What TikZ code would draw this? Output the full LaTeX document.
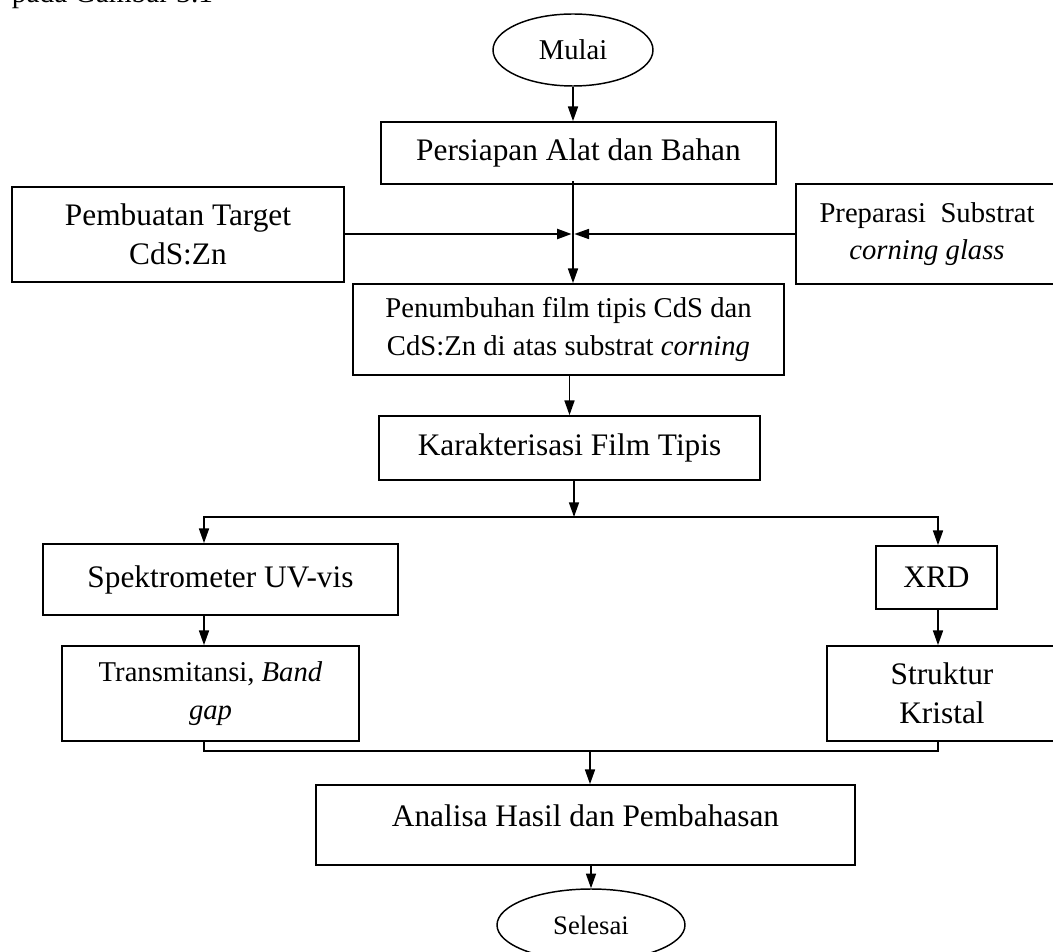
\documentclass[tikz,border=0pt]{standalone}
\usepackage{fontspec}
\setmainfont{Liberation Serif}
\usetikzlibrary{shapes.geometric,arrows.meta}

\tikzset{every picture/.style={line width=0.75pt}}
\tikzset{
  box/.style={draw, line width=1.3pt, align=center, inner sep=2pt, font=\fontsize{23.5}{29.5}\selectfont},
  smallbox/.style={box, font=\fontsize{21.5}{28}\selectfont},
  term/.style={draw, ellipse, line width=1.1pt, inner sep=0pt, font=\fontsize{21.5}{26}\selectfont},
  arr/.style={-{Triangle[length=11pt,width=7.5pt]}, line width=1.2pt},
}

\begin{document}
\begin{tikzpicture}[x=0.75pt,y=0.75pt,yscale=-1,xscale=1]
\useasboundingbox (0,0) rectangle (1053,952);

% Text Node
\node[anchor=base west, font=\fontsize{22}{26}\selectfont] (caption) at (7,3) {pada Gambar 3.1};

%Shape: Ellipse
\node[term, minimum width=120pt, minimum height=54pt] (mulai) at (573,50) {Mulai};
%Shape: Rectangle
\node[box, minimum width=296.25pt, minimum height=46.5pt] (persiapan) at (578.5,153) {Persiapan Alat dan Bahan};
%Shape: Rectangle
\node[box, minimum width=249pt, minimum height=71.25pt] (pembuatan) at (178,234.5) {Pembuatan Target\\CdS:Zn};
%Shape: Rectangle
\node[smallbox, minimum width=196.5pt, minimum height=75pt] (preparasi) at (927,234) {Preparasi\ \ Substrat\\\textit{corning glass}};
%Shape: Rectangle
\node[smallbox, minimum width=323.25pt, minimum height=68.25pt] (penumbuhan) at (568.5,329.5) {Penumbuhan film tipis CdS dan\\CdS:Zn di atas substrat \textit{corning}};
%Shape: Rectangle
\node[box, minimum width=285.75pt, minimum height=48pt] (karakterisasi) at (569.5,448) {Karakterisasi Film Tipis};
%Shape: Rectangle
\node[box, minimum width=266.25pt, minimum height=53.25pt] (spektro) at (220.5,579.5) {Spektrometer UV-vis};
%Shape: Rectangle
\node[box, minimum width=90.75pt, minimum height=47.25pt] (xrd) at (936.5,577.5) {XRD};
%Shape: Rectangle
\node[smallbox, minimum width=222.75pt, minimum height=71.25pt] (transmitansi) at (210.5,693.5) {Transmitansi, \textit{Band}\\\textit{gap}};
%Shape: Rectangle
\node[box, minimum width=172.5pt, minimum height=71.25pt] (struktur) at (942,693.5) {Struktur\\Kristal};
%Shape: Rectangle
\node[box, minimum width=404.25pt, minimum height=60pt, text depth=14pt] (analisa) at (585.5,825) {Analisa Hasil dan Pembahasan};
%Shape: Ellipse
\node[term, minimum width=141pt, minimum height=54pt, font=\fontsize{20}{24}\selectfont] (selesai) at (591,925) {Selesai};

% Junctions
\coordinate (join) at (573,234);
\coordinate (split) at (574,517);
\coordinate (merge) at (590,751);
\coordinate (lcol) at (204,0);
\coordinate (rcol) at (938,0);

%Straight Lines
\draw[arr] (mulai) -- (mulai |- persiapan.north);
\draw[arr] ([yshift=-3pt]persiapan.south -| join) -- (penumbuhan.north -| join);
\draw[arr, line width=1.8pt] (pembuatan.east |- join) -- ([xshift=-1pt]join);
\draw[arr] (preparasi.west |- join) -- ([xshift=1pt]join);
\draw[arr] (penumbuhan.south -| karakterisasi) -- (karakterisasi.north);
\draw[arr] (karakterisasi.south -| split) -- (split);
\draw[arr] (split) -| (spektro.north -| lcol);
\draw[arr] (split) -| (xrd.north -| rcol);
\draw[arr] (spektro.south -| lcol) -- (transmitansi.north -| lcol);
\draw[arr] (xrd.south -| rcol) -- (struktur.north -| rcol);
\draw[line width=1.2pt] (transmitansi.south -| lcol) |- (merge) -| (struktur.south -| rcol);
\draw[arr] (merge) -- (analisa.north -| merge);
\draw[arr] (analisa.south -| selesai) -- (selesai.north);

\end{tikzpicture}
\end{document}
